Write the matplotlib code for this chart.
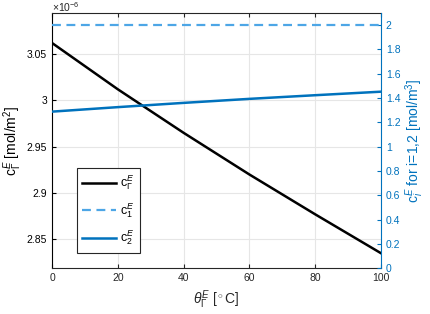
import matplotlib
matplotlib.use("Agg")
import matplotlib.pyplot as plt
from matplotlib.ticker import FuncFormatter

plt.rcParams['font.family'] = ['Liberation Sans', 'DejaVu Sans']
plt.rcParams['mathtext.fontset'] = 'custom'
plt.rcParams['mathtext.rm'] = 'Liberation Sans'
plt.rcParams['mathtext.it'] = 'Liberation Sans:italic'

# temperatur theta [degC]
theta = [0, 20, 40, 60, 80, 100]
# c_Gamma^E [mol/m^2]
c_gamma = [3.062e-6, 3.012e-6, 2.965e-6, 2.920e-6, 2.877e-6, 2.835e-6]
# c_1^E, c_2^E [mol/m^3]
c_1 = [2.0, 2.0, 2.0, 2.0, 2.0, 2.0]
c_2 = [1.288, 1.325, 1.360, 1.393, 1.423, 1.452]

blue = "#0072BD"
light_blue = "#4DA6E6"

fig = plt.figure(figsize=(4.3, 3.14), dpi=100)
ax = fig.add_axes([0.121, 0.1455, 0.765, 0.812])
ax2 = ax.twinx()

l1, = ax.plot(theta, c_gamma, color="black", lw=1.8, label=r"c$_{\Gamma}^{E}$")
l2, = ax2.plot(theta, c_1, "--", color=light_blue, lw=1.6, dashes=(4, 2.5), label=r"c$_{1}^{E}$")
l3, = ax2.plot(theta, c_2, color=blue, lw=1.8, label=r"c$_{2}^{E}$")

ax.set_xlim(0, 100)
ax.set_ylim(2.8187e-6, 3.094e-6)
ax2.set_ylim(0, 2.096)
ax.set_xticks(range(0, 101, 20))
ax.set_yticks([2.85e-6, 2.9e-6, 2.95e-6, 3.0e-6, 3.05e-6])
ax2.set_yticks([0, 0.2, 0.4, 0.6, 0.8, 1, 1.2, 1.4, 1.6, 1.8, 2])
ax.yaxis.set_major_formatter(FuncFormatter(lambda v, p: "%g" % round(v * 1e6, 4)))
ax2.yaxis.set_major_formatter(FuncFormatter(lambda v, p: "%g" % round(v, 4)))
fig.text(0.121, 0.998, r"$\times$10$^{-6}$", fontsize=7.5,
         color="#262626", ha="left", va="top")

ax.grid(True, color="#e6e6e6", lw=0.8)
ax.set_axisbelow(True)

ax.tick_params(axis="both", direction="in", labelsize=7.5, length=3, colors="#262626")
ax.tick_params(axis="x", top=True)
ax.tick_params(axis="y", colors="black")
ax2.tick_params(axis="y", direction="in", labelsize=7.5, length=3, colors=blue)

for s in ["top", "bottom"]:
    ax.spines[s].set_color("#262626")
    ax2.spines[s].set_visible(False)
ax.spines["left"].set_color("black")
ax2.spines["right"].set_color(blue)
ax2.spines["left"].set_visible(False)
ax.spines["right"].set_visible(False)

ax.set_xlabel(r"$\theta_{\Gamma}^{E}$ [$^\circ$C]", fontsize=10, color="#262626")
ax.set_ylabel(r"c$_{\Gamma}^{E}$ [mol/m$^2$]", fontsize=10, color="black", labelpad=2)
ax2.set_ylabel(r"c$_{i}^{E}$ for i=1,2 [mol/m$^3$]", fontsize=10, color=blue, labelpad=2)

leg = ax.legend(handles=[l1, l2, l3], loc="lower left", bbox_to_anchor=(0.075, 0.06),
                borderaxespad=0, fontsize=9, fancybox=False, edgecolor="#262626",
                framealpha=1, handlelength=2.7, labelspacing=0.7, borderpad=0.45,
                handletextpad=0.3)
leg.get_frame().set_linewidth(0.8)

fig.savefig("out.png", dpi=100)
